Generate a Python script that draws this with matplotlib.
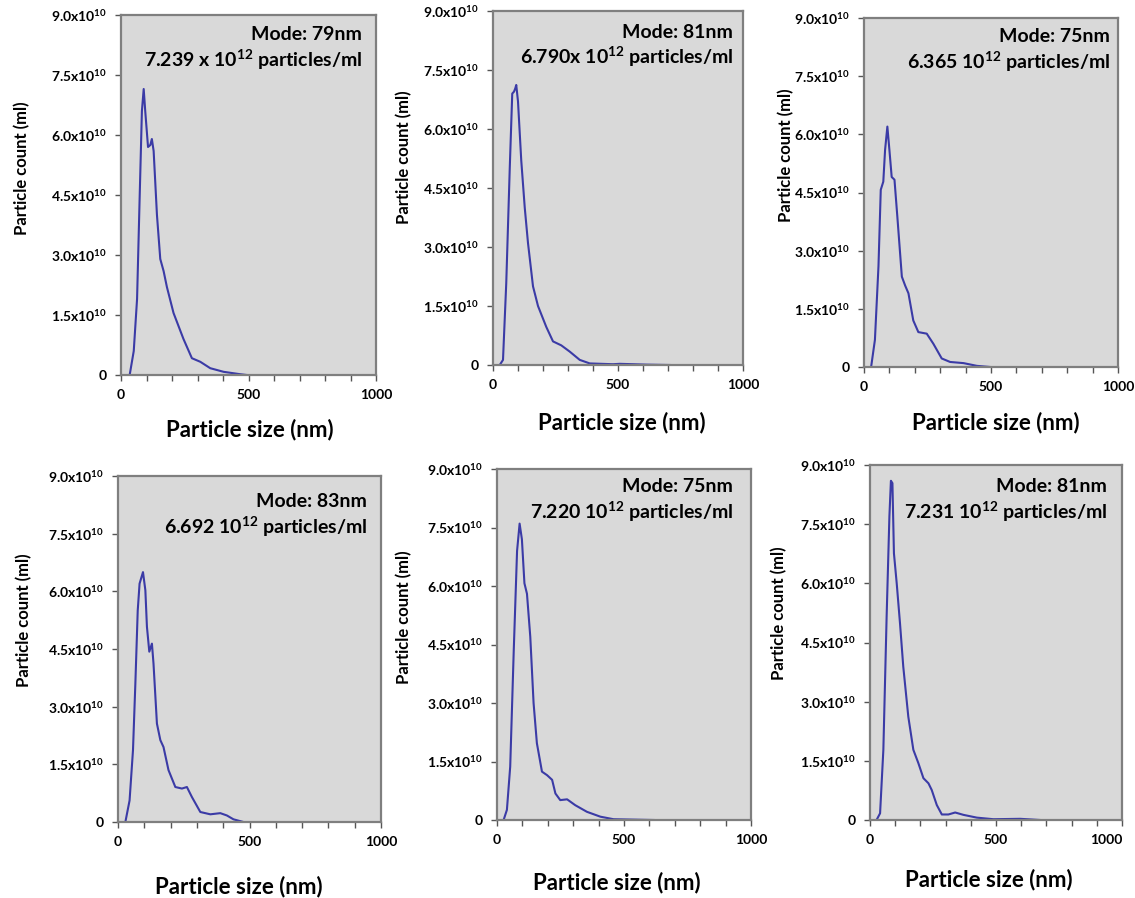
import numpy as np
import matplotlib
matplotlib.use("Agg")
import matplotlib.pyplot as plt

plt.rcParams['font.family'] = ['Lato', 'DejaVu Sans']
plt.rcParams['font.weight'] = 'bold'
plt.rcParams['mathtext.fontset'] = 'custom'
plt.rcParams['mathtext.bf'] = 'Lato:bold'
plt.rcParams['mathtext.rm'] = 'Lato:bold'
plt.rcParams['mathtext.default'] = 'bf'

# particle size (nm) / particle count (x1e10 per ml)
size1 = [34, 50, 63, 73, 82, 89, 95, 106, 115, 121, 128, 141, 154, 167, 180, 206, 245, 278, 311, 350, 402, 467, 493]
count1 = [0, 0.6, 1.9, 4.4, 6.6, 7.15, 6.6, 5.7, 5.75, 5.9, 5.6, 4.0, 2.9, 2.6, 2.2, 1.55, 0.9, 0.42, 0.33, 0.17, 0.08, 0.02, 0]

size2 = [27, 40, 53, 67, 77, 84, 89, 93, 100, 113, 127, 140, 160, 180, 213, 240, 273, 307, 347, 387, 480, 507, 613, 707]
count2 = [0, 0.13, 2.08, 5.0, 6.9, 6.95, 7.03, 7.12, 6.7, 5.2, 4.0, 3.1, 2.0, 1.5, 0.97, 0.6, 0.5, 0.34, 0.13, 0.04, 0.02, 0.03, 0.01, 0]

size3 = [28, 43, 57, 66, 76, 83, 92, 100, 109, 120, 131, 149, 162, 175, 194, 214, 247, 273, 306, 339, 392, 444, 497]
count3 = [0, 0.7, 2.6, 4.57, 4.78, 5.6, 6.2, 5.6, 4.9, 4.83, 3.9, 2.33, 2.1, 1.9, 1.2, 0.9, 0.86, 0.6, 0.22, 0.13, 0.1, 0.03, 0]

size4 = [28, 44, 57, 66, 75, 82, 95, 104, 110, 119, 129, 135, 148, 161, 173, 192, 218, 243, 262, 281, 313, 351, 389, 414, 439, 477]
count4 = [0, 0.56, 1.87, 3.6, 5.5, 6.2, 6.5, 6.03, 5.08, 4.43, 4.64, 4.12, 2.56, 2.13, 1.95, 1.35, 0.91, 0.87, 0.91, 0.65, 0.26, 0.2, 0.23, 0.17, 0.07, 0]

size5 = [26, 39, 52, 66, 79, 89, 98, 108, 118, 131, 144, 157, 177, 197, 217, 230, 249, 276, 308, 354, 407, 459, 617]
count5 = [0, 0.26, 1.37, 4.36, 6.9, 7.6, 7.2, 6.07, 5.8, 4.7, 3.0, 1.97, 1.24, 1.15, 1.03, 0.68, 0.51, 0.53, 0.38, 0.21, 0.085, 0.02, 0]

size6 = [26, 40, 53, 66, 77, 83, 89, 95, 106, 119, 132, 152, 172, 192, 212, 232, 245, 265, 285, 311, 338, 371, 424, 490, 596, 675]
count6 = [0, 0.17, 1.78, 5.16, 7.7, 8.6, 8.54, 6.76, 6.0, 4.99, 3.89, 2.62, 1.78, 1.44, 1.06, 0.93, 0.76, 0.38, 0.14, 0.14, 0.19, 0.13, 0.06, 0.02, 0.03, 0]

modes = ['Mode: 79nm', 'Mode: 81nm', 'Mode: 75nm', 'Mode: 83nm', 'Mode: 75nm', 'Mode: 81nm']
concs = ['7.239 x 10$^{12}$ particles/ml', '6.790x 10$^{12}$ particles/ml', '6.365 10$^{12}$ particles/ml',
         '6.692 10$^{12}$ particles/ml', '7.220 10$^{12}$ particles/ml', '7.231 10$^{12}$ particles/ml']

yticks = [0, 1.5, 3.0, 4.5, 6.0, 7.5, 9.0]
ytick_labels = ['0', '1.5x10$^{10}$', '3.0x10$^{10}$', '4.5x10$^{10}$', '6.0x10$^{10}$', '7.5x10$^{10}$', '9.0x10$^{10}$']

sizes = [size1, size2, size3, size4, size5, size6]
counts = [count1, count2, count3, count4, count5, count6]

# panel boxes in pixels: left, top, right, bottom (the panels are not quite aligned)
boxes = [(121, 15, 376, 375), (493, 11, 743, 365), (864, 18, 1118, 367),
         (118, 476, 381, 822), (497, 469, 751, 820), (870, 465, 1122, 820)]
ylab_pos = [(23, 168), (405, 157), (787, 155), (25, 620), (405, 617), (780, 613)]
xlab_pos = [(250, 430), (622, 423), (996, 423), (239, 887), (617, 883), (989, 880)]
note_pos = [(362, 35), (733, 32), (1110, 37), (367, 502), (733, 487), (1107, 487)]

W, H = 1135, 898
fig = plt.figure(figsize=(W / 100, H / 100), dpi=100)

for i in range(6):
    l, t, r, b = boxes[i]
    ax = fig.add_axes([l / W, (H - b) / H, (r - l) / W, (b - t) / H])
    ax.set_facecolor('#d9d9d9')
    ax.plot(sizes[i], counts[i], color='#3b3ba6', lw=1.5)
    ax.set_xlim(0, 1000)
    ax.set_ylim(0, 9.0)
    ax.set_xticks([0, 500, 1000])
    ax.set_xticks(np.arange(100, 1000, 100), minor=True)
    ax.set_yticks(yticks)
    ax.set_yticklabels(ytick_labels)
    ax.tick_params(axis='both', which='both', direction='out', length=4, width=1, color='#555555',
                   labelsize=10, pad=6)
    for s in ax.spines.values():
        s.set_color('#7f7f7f')
        s.set_linewidth(1.6)
    # keep the right-most "1000" inside the figure
    if r + 16 > W:
        ax.get_xticklabels()[-1].set_horizontalalignment('right')
        ax.get_xticklabels()[-1].set_x(1000)

    ax.set_ylabel('Particle count (ml)', fontsize=12, fontweight='bold')
    yx, yy = ylab_pos[i]
    ax.yaxis.set_label_coords((yx + 7 - l) / (r - l), (b - yy) / (b - t))
    ax.set_xlabel('Particle size (nm)', fontsize=16, fontweight='bold')
    xx, xy = xlab_pos[i]
    ax.xaxis.set_label_coords((xx - l) / (r - l), (b - (xy - 11)) / (b - t))

    nx, ny = note_pos[i]
    fig.text(nx / W, 1 - ny / H, modes[i], ha='right', va='center', fontsize=14, fontweight='bold')
    fig.text(nx / W, 1 - (ny + 25) / H, concs[i], ha='right', va='center', fontsize=14, fontweight='bold')

fig.savefig('out.png', dpi=100)
